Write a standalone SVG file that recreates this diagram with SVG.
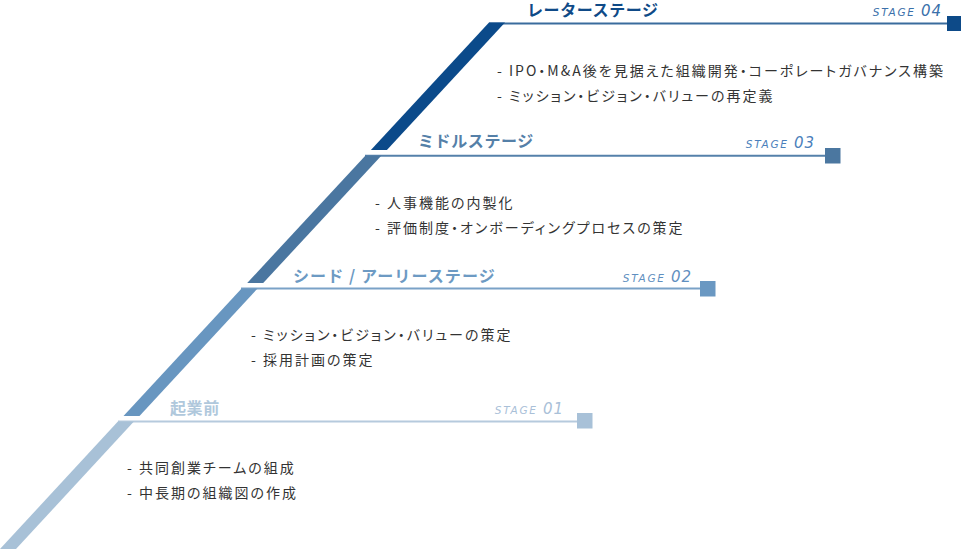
<svg xmlns="http://www.w3.org/2000/svg" width="961" height="549" viewBox="0 0 961 549">
<style>
.ttl{font-family:"Noto Sans CJK JP","Noto Sans",sans-serif;font-weight:700;font-size:16px;letter-spacing:0.6px}
.txt{font-family:"Noto Sans CJK JP","Noto Sans",sans-serif;font-size:14px;fill:#333;letter-spacing:2px;font-feature-settings:"palt"}
.stg{font-family:"DejaVu Sans",sans-serif;font-style:oblique;font-size:10.5px;letter-spacing:1.8px}
.num{font-size:15px;letter-spacing:1px}
</style>
<rect width="961" height="549" fill="#fff"/>
<g id="connectors">
<line x1="489" y1="23.4" x2="950" y2="23.4" stroke="#3a6c9d" stroke-width="2"/>
<line x1="365" y1="155.7" x2="828" y2="155.7" stroke="#5581aa" stroke-width="2"/>
<line x1="241" y1="288.4" x2="703" y2="288.4" stroke="#7aa2c7" stroke-width="2"/>
<line x1="118" y1="421.6" x2="580" y2="421.6" stroke="#b6cadd" stroke-width="2"/>
</g>
<g id="stage4">
<polygon points="489,22.5 505,22.5 386.9,150 370.9,150" fill="#0b4a8a"/>
<rect x="947" y="16" width="15" height="15" fill="#0d4a88"/>
<text class="ttl" x="527" y="15.5" fill="#0f4a87">レーターステージ</text>
<text class="stg" x="942" y="15.5" text-anchor="end" fill="#3a70aa">STAGE <tspan class="num">04</tspan></text>
<text class="txt" x="497" y="76">- IPO・M&amp;A後を見据えた組織開発・コーポレートガバナンス構築</text>
<text class="txt" x="497" y="101">- ミッション・ビジョン・バリューの再定義</text>
</g>
<g id="stage3">
<polygon points="365.3,155.7 381.3,155.7 263.2,283 247.2,283" fill="#4a76a0"/>
<rect x="825" y="148" width="15.5" height="15.5" fill="#4b77a0"/>
<text class="ttl" x="418" y="147" fill="#5580a8">ミドルステージ</text>
<text class="stg" x="815" y="148" text-anchor="end" fill="#4a80bb">STAGE <tspan class="num">03</tspan></text>
<text class="txt" x="375" y="208">- 人事機能の内製化</text>
<text class="txt" x="375" y="233">- 評価制度・オンボーディングプロセスの策定</text>
</g>
<g id="stage2">
<polygon points="241.6,288.4 257.6,288.4 139.5,416 123.5,416" fill="#6896c0"/>
<rect x="700" y="281" width="15.5" height="15.5" fill="#6a98c2"/>
<text class="ttl" x="293" y="282" fill="#6d9ac3" style="letter-spacing:1.1px">シード / アーリーステージ</text>
<text class="stg" x="692" y="281.5" text-anchor="end" fill="#5f8fc0">STAGE <tspan class="num">02</tspan></text>
<text class="txt" x="251" y="340">- ミッション・ビジョン・バリューの策定</text>
<text class="txt" x="251" y="365">- 採用計画の策定</text>
</g>
<g id="stage1">
<polygon points="117.9,421.6 133.9,421.6 16,549 0,549" fill="#a8c1d7"/>
<rect x="577" y="413" width="15.5" height="15.5" fill="#a8c1d8"/>
<text class="ttl" x="170" y="414" fill="#b0c8dc">起業前</text>
<text class="stg" x="564" y="413.5" text-anchor="end" fill="#a9c0d8">STAGE <tspan class="num">01</tspan></text>
<text class="txt" x="127" y="473">- 共同創業チームの組成</text>
<text class="txt" x="127" y="498">- 中長期の組織図の作成</text>
</g>
</svg>
